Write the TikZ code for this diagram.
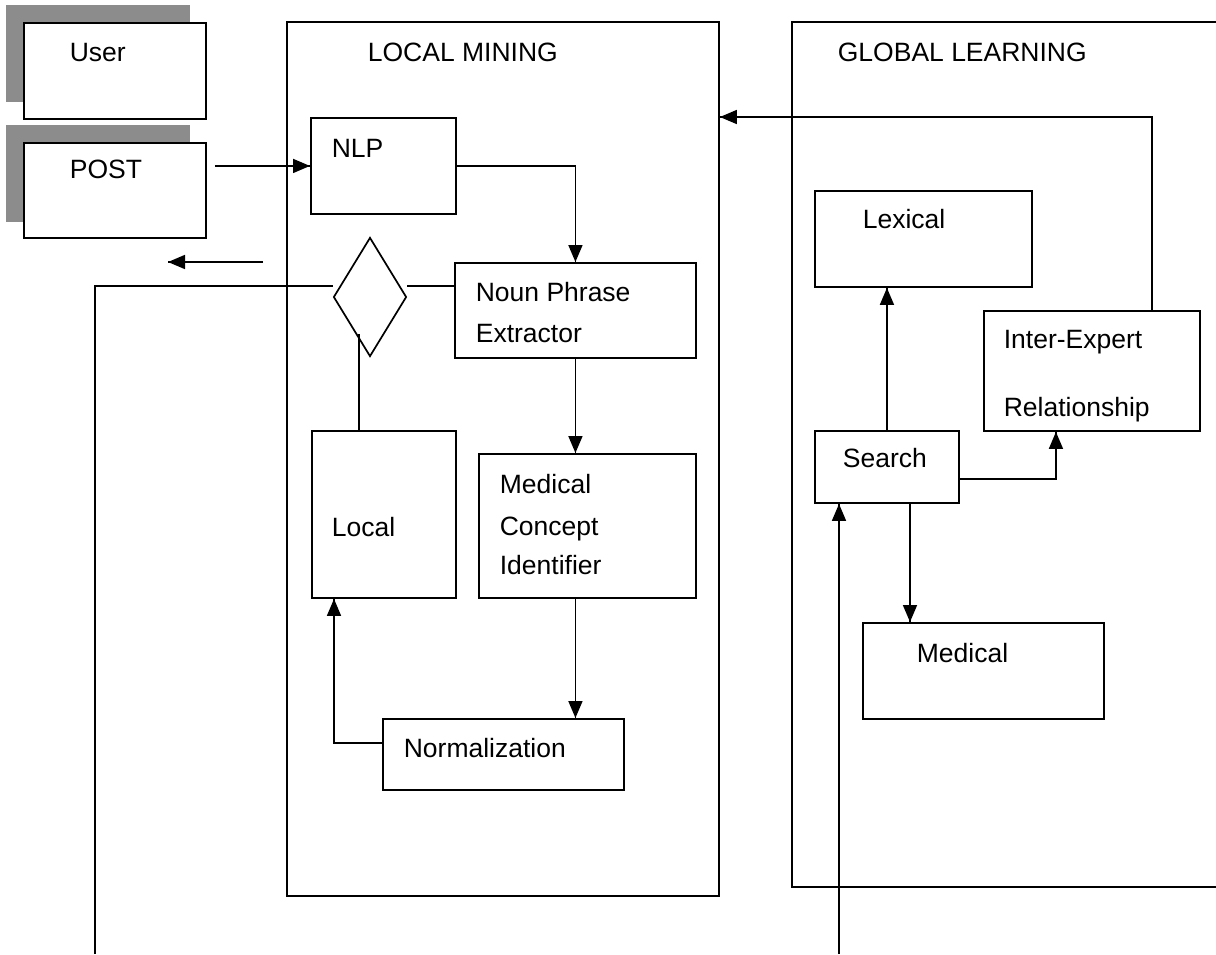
\documentclass[tikz,border=0pt]{standalone}
\usepackage{fontspec}
\setmainfont{Liberation Sans}
\usepackage{tikz}
\usetikzlibrary{arrows.meta}
\usetikzlibrary{decorations.markings}
\usetikzlibrary{positioning}
\usetikzlibrary{shapes.geometric}
\tikzset{->/.style = {decoration={markings,
                                  mark=at position 1 with {\arrow{Triangle[length=17pt,width=14pt]}}},
                      postaction={decorate}}}
\tikzset{box/.style = {draw, line width=1.9pt, inner sep=0pt, anchor=north west}}
\tikzset{txt/.style = {anchor=base west, inner sep=0pt, font=\fontsize{26.5}{30}\selectfont}}
\definecolor{mgray}{rgb}{0.55, 0.55, 0.55}

\begin{document}
\begin{tikzpicture}[x=1pt, y=-1pt, line width=1.7pt]
    \useasboundingbox (0, 0) rectangle (1216, 954);

    % shadows
    \fill [mgray] (6, 5) rectangle (190, 102);
    \fill [mgray] (6, 125) rectangle (190, 222);

    % frames
    \node [box, minimum width=432pt, minimum height=874pt] (lmine) at (286, 21) {};
    \node [box, minimum width=439pt, minimum height=865pt] (glearn) at (791, 21) {};
    \node [txt] (lminetxt) at (367, 61) {LOCAL MINING};
    \node [txt] (glearntxt) at (837, 61) {GLOBAL LEARNING};

    % left side
    \node [box, fill=white, minimum width=182pt, minimum height=96pt] (user) at (23, 22) {};
    \node [box, fill=white, minimum width=182pt, minimum height=95pt] (post) at (23, 142) {};
    \node [txt] (usertxt) at (69, 61) {User};
    \node [txt] (posttxt) at (69, 178) {POST};

    % local mining
    \node [box, minimum width=145pt, minimum height=96pt] (nlp) at (310, 117) {};
    \node [box, minimum width=241pt, minimum height=95pt] (noun) at (454, 262) {};
    \node [box, minimum width=217pt, minimum height=144pt] (mci) at (478, 453) {};
    \node [box, minimum width=144pt, minimum height=167pt] (local) at (311, 430) {};
    \node [box, minimum width=241pt, minimum height=71pt] (norm) at (382, 718) {};
    \node [draw, diamond, inner sep=0pt, minimum width=73pt, minimum height=119pt] (dec) at (370, 297) {};

    \node [txt] (nlptxt) at (331, 157) {NLP};
    \node [txt] (nountxt) at (475, 301) {Noun Phrase};
    \node [txt] (nountxtb) at (475, 342) {Extractor};
    \node [txt] (mcitxt) at (499, 493) {Medical};
    \node [txt] (mcitxtb) at (499, 535) {Concept};
    \node [txt] (mcitxtc) at (499, 574) {Identifier};
    \node [txt] (localtxt) at (331, 536) {Local};
    \node [txt] (normtxt) at (403, 757) {Normalization};

    % global learning
    \node [box, minimum width=217pt, minimum height=96pt] (lex) at (814, 190) {};
    \node [box, minimum width=216pt, minimum height=120pt] (iex) at (983, 310) {};
    \node [box, minimum width=144pt, minimum height=72pt] (search) at (814, 430) {};
    \node [box, minimum width=241pt, minimum height=96pt] (meddb) at (862, 622) {};

    \node [txt] (lextxt) at (862, 228) {Lexical};
    \node [txt] (iextxt) at (1003, 348) {Inter-Expert};
    \node [txt] (iextxtb) at (1003, 416) {Relationship};
    \node [txt] (searchtxt) at (842, 467) {Search};
    \node [txt] (meddbtxt) at (916, 662) {Medical};

    % connectors
    \coordinate (bus) at (95, 286);
    \coordinate (lout) at (95, 954);
    \coordinate (gin) at (839, 954);
    \coordinate (retb) at (263, 262);
    \coordinate (reta) at (168, 262);
    \coordinate (lk) at (359, 334);
    \coordinate (sdown) at (910, 502);

    \draw [->] ([xshift=8pt]post.east |- nlp.east) -- (nlp.west);
    \draw [->] (nlp.east) -| (noun.north);
    \draw [->] (noun.south) -- (noun.south |- mci.north);
    \draw [->] (noun.south |- mci.south) -- (noun.south |- norm.north);
    \draw [->] ([yshift=11.5pt]norm.west) -| ([xshift=23pt]local.south west);
    \draw (local.north -| lk) -- (lk);
    \draw (lout) -- (bus) -- (bus -| dec.west);
    \draw (bus -| dec.east) -- (bus -| noun.west);
    \draw [->] (retb) -- (reta);

    \draw [->] ([xshift=60pt]iex.north) |- (lmine.east |- nlp.north);
    \draw [->] (search.north) -- (search.north |- lex.south);
    \draw [->] ([yshift=-12pt]search.east) -| ([xshift=-36pt]iex.south);
    \draw [->] (sdown) -- (sdown |- meddb.north);
    \draw [->] (gin) -- (gin |- search.south);
  \end{tikzpicture}
\end{document}
